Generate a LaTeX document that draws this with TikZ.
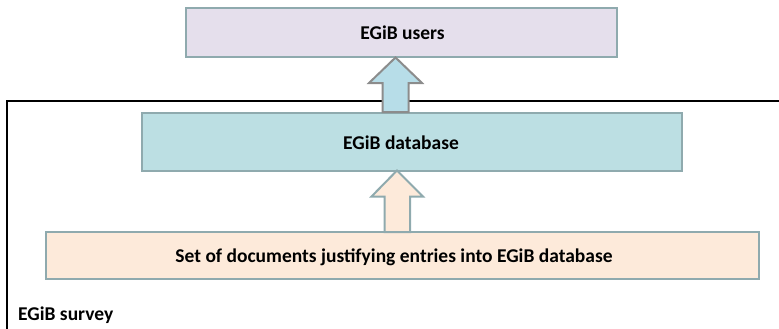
\documentclass[tikz,border=0pt]{standalone}
\usepackage{fontspec}
\setmainfont{Carlito}
\usetikzlibrary{calc}
\definecolor{usersfill}{RGB}{229,223,236}
\definecolor{dbfill}{RGB}{188,223,227}
\definecolor{docfill}{RGB}{253,234,218}
\definecolor{boxline}{RGB}{143,170,174}
\definecolor{arrowline}{RGB}{140,140,140}
\definecolor{arrowfill}{RGB}{183,221,232}
\begin{document}
\begin{tikzpicture}[x=1pt,y=-1pt,
  box/.style={draw=boxline, line width=2pt, anchor=north west, inner sep=0pt, outer sep=0pt},
  lbl/.style={font=\bfseries\fontsize{19.5}{22}\selectfont, inner sep=0pt},
  arrowA/.style={draw=arrowline, fill=arrowfill, line width=2pt, line join=miter},
  arrowB/.style={draw=boxline, fill=docfill, line width=2pt, line join=miter}]
\useasboundingbox (0,0) rectangle (779,329);
% survey frame
\coordinate (fbl) at (7,340);
\coordinate (ftl) at (7,101);
\coordinate (ftr) at (790,101);
\draw[line width=2.4pt] (fbl) -- (ftl) -- (ftr);
% boxes
\node[box, fill=usersfill, minimum width=431pt, minimum height=49pt] (users) at (185.5,8.5) {};
\node[box, fill=dbfill, minimum width=540pt, minimum height=58pt] (db) at (142,112.5) {};
\node[box, fill=docfill, minimum width=713pt, minimum height=46.5pt] (docs) at (45.5,232) {};
% labels
\node[lbl] (userst) at ($(users.center)+(1.5,0)$) {EGiB users};
\node[lbl] (dbt) at ($(db.center)+(-11,1)$) {EGiB database};
\node[lbl] (docst) at ($(docs.center)+(-8,2)$) {Set of documents justifying entries into EGiB database};
\node[lbl, anchor=base west] (survey) at (18,320.7) {EGiB survey};
% arrows
\coordinate (a1tip) at ($(users.south)+(-5.5,0)$);
\draw[arrowA] (a1tip) -- ++(26.5,25.5) -- ++(-13.5,0) -- ++(0,29) -- ++(-26,0) -- ++(0,-29) -- ++(-13.5,0) -- cycle;
\coordinate (a2tip) at ($(db.south)+(-15,0)$);
\draw[arrowB] (a2tip) -- ++(26,26) -- ++(-13,0) -- ++(0,35.5) -- ++(-25.5,0) -- ++(0,-35.5) -- ++(-13,0) -- cycle;
\end{tikzpicture}
\end{document}
